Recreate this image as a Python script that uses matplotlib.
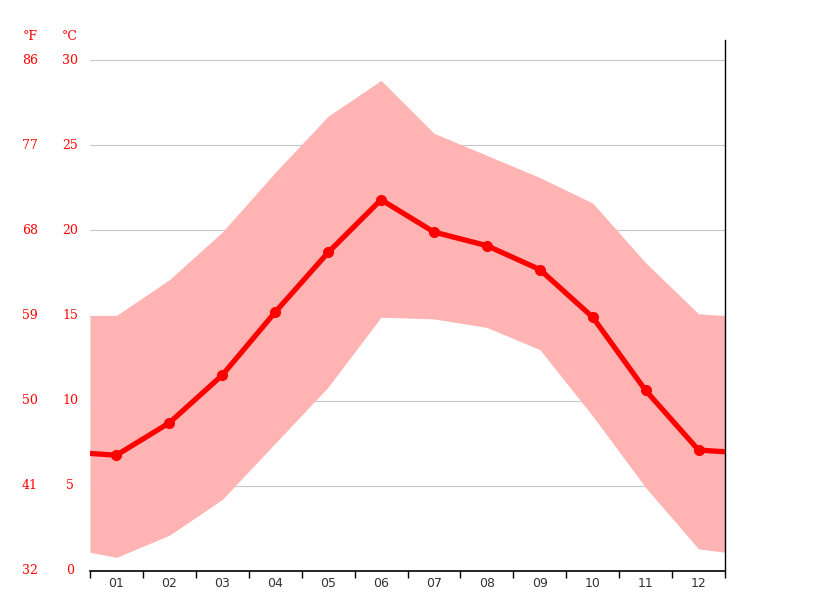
import matplotlib
matplotlib.use("Agg")
import matplotlib.pyplot as plt
import matplotlib.transforms as mtransforms
import numpy as np

# monthly climate data (°C), plus values at the left/right plot edges
months = ["01", "02", "03", "04", "05", "06", "07", "08", "09", "10", "11", "12"]
avg_temp = [6.8, 8.7, 11.5, 15.2, 18.7, 21.8, 19.9, 19.1, 17.7, 14.9, 10.6, 7.1]
max_temp = [15.0, 17.1, 19.9, 23.4, 26.7, 28.8, 25.7, 24.4, 23.1, 21.6, 18.1, 15.1]
min_temp = [0.8, 2.1, 4.2, 7.5, 10.8, 14.9, 14.8, 14.3, 13.0, 9.1, 4.9, 1.3]
edge_avg = [6.9, 7.0]
edge_max = [15.0, 15.0]
edge_min = [1.1, 1.1]

c_ticks = [0, 5, 10, 15, 20, 25, 30]
f_ticks = ["32", "41", "50", "59", "68", "77", "86"]

RED = "#ff0000"
BAND = "#ffb3b3"

fig = plt.figure(figsize=(8.15, 6.11), dpi=100)
ax = fig.add_axes([90 / 815, 40 / 611, 635 / 815, 531 / 611])

x = np.arange(1, 13)
x_full = np.concatenate([[0.5], x, [12.5]])
max_full = [edge_max[0]] + max_temp + [edge_max[1]]
min_full = [edge_min[0]] + min_temp + [edge_min[1]]
avg_full = [edge_avg[0]] + avg_temp + [edge_avg[1]]

ax.fill_between(x_full, min_full, max_full, color=BAND, lw=0, zorder=2)
ax.plot(x_full, avg_full, color=RED, lw=3.8, zorder=3, solid_capstyle="butt")
ax.plot(x, avg_temp, "o", color=RED, ms=7, zorder=4)

for c in c_ticks[1:]:
    ax.axhline(c, color="#c8c8c8", lw=0.8, zorder=1)

ax.set_xlim(0.5, 12.5)
ax.set_ylim(0, 30 + 20 / 17.03)

for s in ["top", "left"]:
    ax.spines[s].set_visible(False)
ax.spines["bottom"].set_color("black")
ax.spines["right"].set_color("black")
ax.spines["bottom"].set_linewidth(1.2)
ax.spines["right"].set_linewidth(1.0)

ax.set_xticks(np.arange(0.5, 13, 1))
ax.set_xticklabels([])
ax.tick_params(axis="x", which="major", direction="out", length=5, width=1, color="black")
ax.set_xticks(x, minor=True)
ax.set_xticklabels(months, minor=True)
ax.tick_params(axis="x", which="minor", length=0, pad=4, labelsize=9, labelcolor="#333333")
ax.set_yticks([])

trans = mtransforms.blended_transform_factory(fig.transFigure, ax.transData)
for c, f in zip(c_ticks, f_ticks):
    ax.text(70 / 815, c, str(c), transform=trans, ha="center", va="center",
            color=RED, fontsize=9, family="DejaVu Serif")
    ax.text(30 / 815, c, f, transform=trans, ha="center", va="center",
            color=RED, fontsize=9, family="DejaVu Serif")

fig.text(70 / 815, 1 - 36 / 611, "°C", ha="center", va="center", color=RED,
         fontsize=9, family="DejaVu Serif")
fig.text(30 / 815, 1 - 36 / 611, "°F", ha="center", va="center", color=RED,
         fontsize=9, family="DejaVu Serif")

fig.savefig("out.png", dpi=100)
